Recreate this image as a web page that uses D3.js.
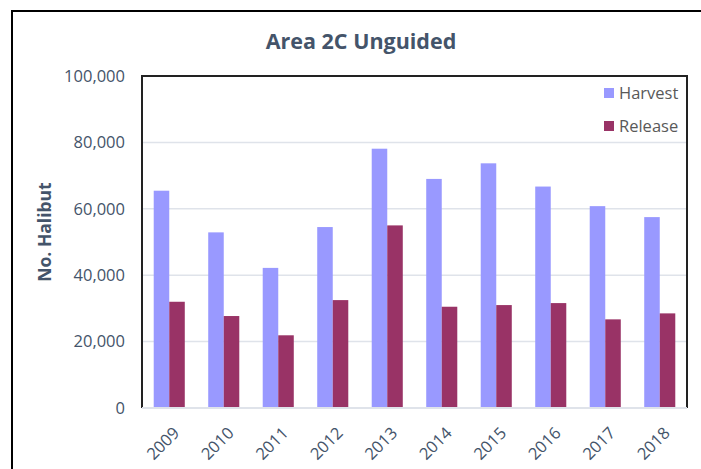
<!DOCTYPE html>
<meta charset="utf-8">
<script src="https://d3js.org/d3.v7.min.js"></script>
<style>
  body { margin: 0; background: #fff; }
  text { font-family: "Open Sans", sans-serif; }
</style>
<div id="chart"></div>
<script>
  // data
  var years = ["2009", "2010", "2011", "2012", "2013", "2014", "2015", "2016", "2017", "2018"];
  var harvest = [65450, 52900, 42200, 54500, 78100, 69000, 73700, 66700, 60800, 57500];
  var release = [32000, 27700, 21900, 32500, 55000, 30500, 31000, 31600, 26700, 28500];
  var seriesNames = ["Harvest", "Release"];
  var seriesColors = ["#9999ff", "#993366"];
  var yTicks = [0, 20000, 40000, 60000, 80000, 100000];

  var W = 701, H = 469;
  var margin = {top: 76, right: 14, bottom: 61, left: 142},
    width = W - margin.left - margin.right,
    height = H - margin.top - margin.bottom;

  var svg = d3.select("#chart").append("svg")
    .attr("width", W)
    .attr("height", H);

  // outer chart frame (runs off the right and bottom edge)
  svg.append("rect")
    .attr("x", 12).attr("y", 11)
    .attr("width", 710).attr("height", 480)
    .attr("fill", "#fff")
    .attr("stroke", "#000")
    .attr("stroke-width", 2);

  svg.append("text")
    .attr("x", 361).attr("y", 49)
    .attr("text-anchor", "middle")
    .style("font-size", "21.5px")
    .style("font-weight", "bold")
    .style("fill", "#44546a")
    .text("Area 2C Unguided");

  var g = svg.append("g")
    .attr("transform", "translate(" + margin.left + "," + margin.top + ")");

  var x = d3.scaleBand().domain(years).range([0, width]).paddingInner(0.43).paddingOuter(0.215);
  var x1 = d3.scaleBand().domain(seriesNames).range([0, x.bandwidth()]);
  var y = d3.scaleLinear().domain([0, 100000]).range([height, 0]);

  // gridlines
  g.selectAll(".grid").data(yTicks.slice(1, -1)).enter()
    .append("line")
    .attr("x1", 0).attr("x2", width)
    .attr("y1", function(d) { return y(d); })
    .attr("y2", function(d) { return y(d); })
    .attr("stroke", "#dfe3ea")
    .attr("stroke-width", 1.5);

  // bars
  var data = years.map(function(yr, i) {
    return {year: yr, values: [harvest[i], release[i]]};
  });
  var groups = g.selectAll(".yr").data(data).enter()
    .append("g")
    .attr("transform", function(d) { return "translate(" + x(d.year) + ",0)"; });
  groups.selectAll("rect")
    .data(function(d) { return d.values.map(function(v, j) { return {name: seriesNames[j], v: v, c: seriesColors[j]}; }); })
    .enter()
    .append("rect")
    .attr("x", function(d) { return x1(d.name); })
    .attr("width", x1.bandwidth())
    .attr("y", function(d) { return y(d.v); })
    .attr("height", function(d) { return height - y(d.v); })
    .attr("fill", function(d) { return d.c; });

  // plot frame: left, top, right dark; bottom light axis
  g.append("path")
    .attr("d", "M0," + height + "V0H" + width + "V" + height)
    .attr("fill", "none")
    .attr("stroke", "#222")
    .attr("stroke-width", 2);
  g.append("line")
    .attr("x1", 0).attr("x2", width)
    .attr("y1", height).attr("y2", height)
    .attr("stroke", "#dfe3ea")
    .attr("stroke-width", 2);

  // y axis labels
  var yAxis = g.append("g")
    .call(d3.axisLeft(y).tickValues(yTicks).tickSize(0).tickPadding(17).tickFormat(d3.format(",")));
  yAxis.select(".domain").remove();
  yAxis.selectAll("text")
    .style("font-size", "16.5px")
    .style("font-family", "Open Sans, sans-serif")
    .style("fill", "#44546a");

  // x axis labels
  var xAxis = g.append("g")
    .attr("transform", "translate(0," + height + ")")
    .call(d3.axisBottom(x).tickSize(0));
  xAxis.select(".domain").remove();
  xAxis.selectAll("text")
    .style("font-size", "16.5px")
    .style("font-family", "Open Sans, sans-serif")
    .style("fill", "#44546a")
    .attr("text-anchor", "end")
    .attr("dy", null)
    .attr("transform", "translate(9,24) rotate(-45)");

  // y title
  svg.append("text")
    .attr("transform", "translate(51," + (margin.top + height / 2 - 10) + ") rotate(-90)")
    .attr("text-anchor", "middle")
    .style("font-size", "17.5px")
    .style("font-weight", "bold")
    .style("fill", "#44546a")
    .text("No. Halibut");

  // legend
  var legend = g.selectAll(".lg").data(seriesNames).enter()
    .append("g")
    .attr("transform", function(d, i) { return "translate(" + (604 - margin.left) + "," + (93 - margin.top + i * 33) + ")"; });
  legend.append("rect")
    .attr("x", 0).attr("y", -5)
    .attr("width", 10).attr("height", 10)
    .attr("fill", function(d, i) { return seriesColors[i]; });
  legend.append("text")
    .attr("x", 15).attr("y", 0)
    .attr("dy", "0.35em")
    .style("font-size", "16.5px")
    .style("fill", "#595959")
    .text(function(d) { return d; });
</script>
